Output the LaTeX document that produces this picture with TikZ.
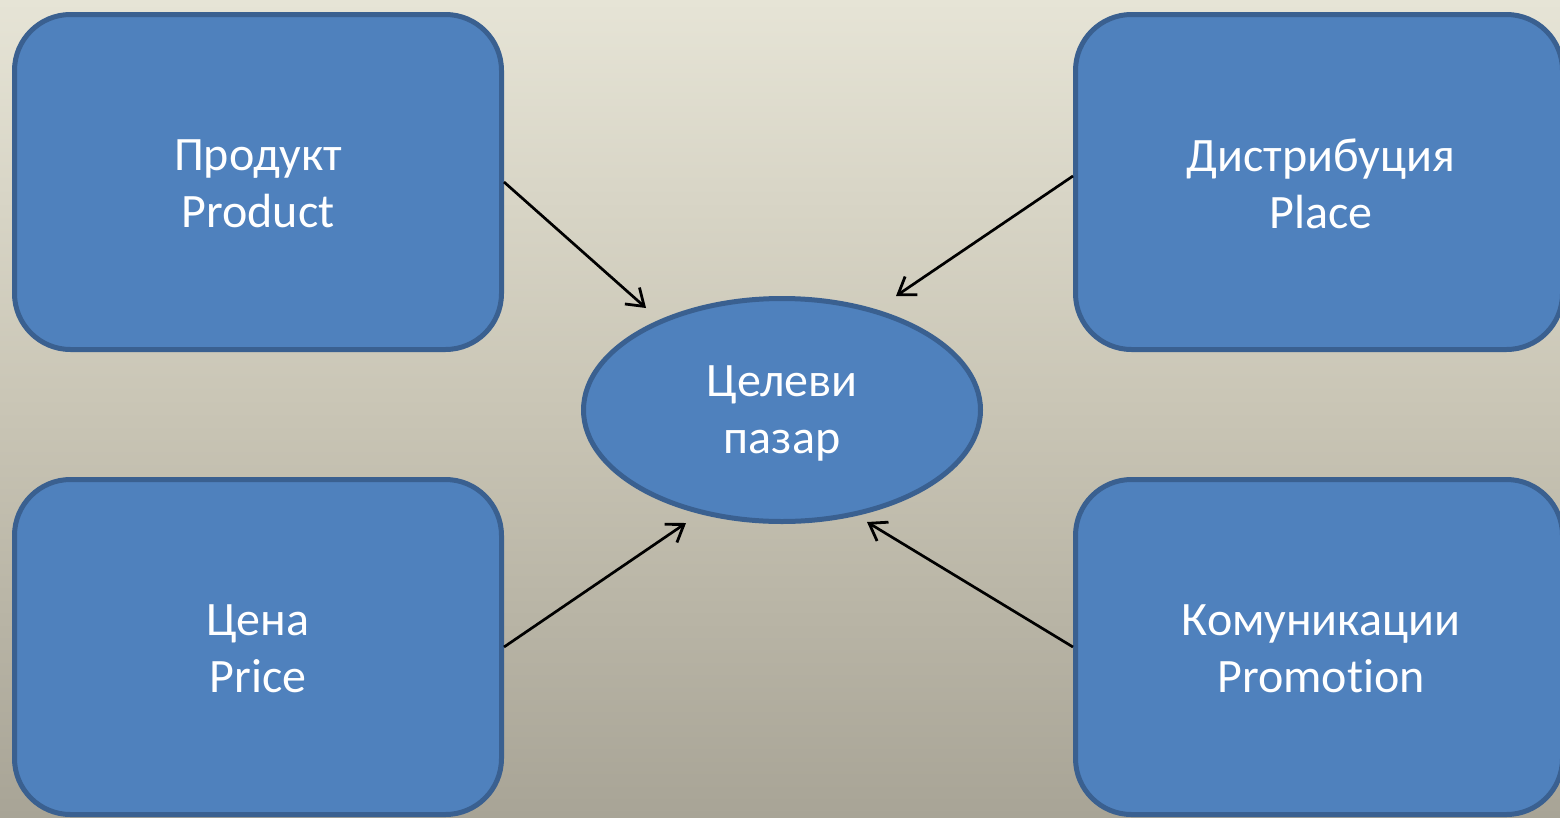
\documentclass[tikz,border=0pt]{standalone}
\usepackage{fontspec}
\setmainfont{Carlito}[Ligatures=NoCommon]
\usetikzlibrary{arrows.meta,shapes.geometric}
\definecolor{boxfill}{HTML}{4F81BD}
\definecolor{boxline}{HTML}{3A6090}
\definecolor{bgtop}{HTML}{E6E4D6}
\definecolor{bgmid}{HTML}{C9C5B5}
\definecolor{bgbot}{HTML}{A8A496}
\tikzset{
  ptext/.style={text=white, align=center, font=\fontsize{48}{57}\selectfont, inner sep=0pt},
  pbox/.style={draw=boxline, fill=boxfill, line width=5pt, rounded corners=56pt,
    minimum width=487pt, minimum height=335pt, inner sep=0pt, outer sep=2.5pt},
  pell/.style={ellipse, draw=boxline, fill=boxfill, line width=5pt,
    minimum width=397pt, minimum height=223pt, inner sep=0pt, outer sep=2.5pt},
  arr/.style={draw=black, line width=2.7pt,
    -{Straight Barb[length=16pt,width=22pt,line width=2.8pt]}}
}
\begin{document}
\begin{tikzpicture}[x=1pt,y=-1pt]
\shade[top color=bgtop, bottom color=bgbot, middle color=bgmid] (0,0) rectangle (1560,817);
\useasboundingbox (0,0) rectangle (1560,817);
\node[pbox] (tl) at (258,182) {};
\node[pbox] (tr) at (1319,182) {};
\node[pbox] (bl) at (258,647) {};
\node[pbox] (br) at (1319,647) {};
\node[pell] (ell) at (782,410) {};
\node[ptext] (tlt) at (258,184) {Продукт\\Product};
\node[ptext] (trt) at (1321,184) {Дистрибуция\\Place};
\node[ptext] (blt) at (258,649) {Цена\\Price};
\node[ptext] (brt) at (1321,649) {Комуникации\\Promotion};
\node[ptext] (ellt) at (782,413) {Целеви\\пазар};
\coordinate (t1) at (646,308);
\coordinate (t2) at (896,296);
\coordinate (t3) at (686,523);
\coordinate (t4) at (867,522);
\draw[arr] (tl.east) -- (t1);
\draw[arr] ([yshift=6pt]tr.west) -- (t2);
\draw[arr] (bl.east) -- (t3);
\draw[arr] (br.west) -- (t4);
\end{tikzpicture}
\end{document}
